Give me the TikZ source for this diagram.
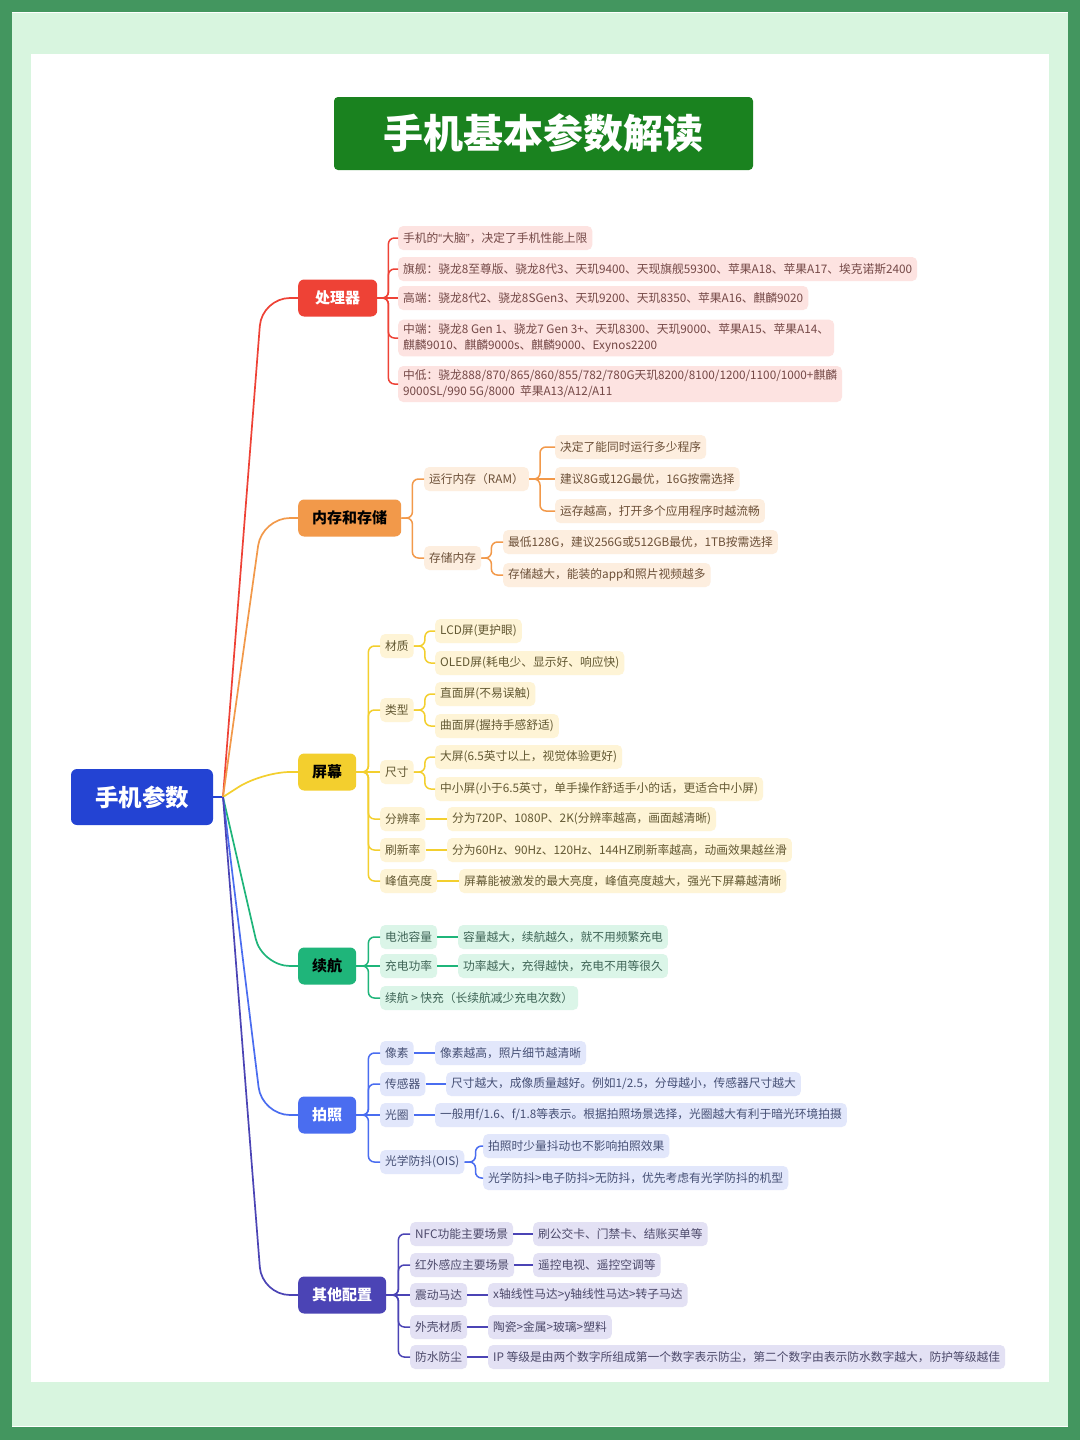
\documentclass[tikz,border=0pt]{standalone}
\usepackage{fontspec}
\setmainfont{Noto Sans CJK SC}
\newfontfamily\quofont{Liberation Sans}

\definecolor{frameG}{HTML}{43965F}
\definecolor{paleG}{HTML}{D8F5DF}
\definecolor{titleG}{HTML}{1A821F}
\definecolor{rootB}{HTML}{2343D3}
\definecolor{cpu}{HTML}{EE4236}  \definecolor{cpuL}{HTML}{FDE3E1} \definecolor{cpuT}{HTML}{744846}
\definecolor{mem}{HTML}{F2994A}  \definecolor{memL}{HTML}{FDEEDF} \definecolor{memT}{HTML}{6C5038}
\definecolor{scr}{HTML}{F3CF2E}  \definecolor{scrL}{HTML}{FEF4D6} \definecolor{scrT}{HTML}{625832}
\definecolor{bat}{HTML}{1FB57A}  \definecolor{batL}{HTML}{DBF5E8} \definecolor{batT}{HTML}{3E6456}
\definecolor{cam}{HTML}{4A6DF0}  \definecolor{camL}{HTML}{E2E7FB} \definecolor{camT}{HTML}{465075}
\definecolor{oth}{HTML}{4B44B5}  \definecolor{othL}{HTML}{E3E1F4} \definecolor{othT}{HTML}{4C496A}

\begin{document}
\begin{tikzpicture}[x=1pt,y=-1pt,
  leaf/.style={fill=#1L, text=#1T, rounded corners=5pt, anchor=west, inner xsep=5pt,
    inner ysep=4pt, minimum height=24pt, align=left, font=\fontsize{11.75}{16}\selectfont},
  topic/.style={fill=#1, rounded corners=6pt, anchor=west, inner xsep=14pt,
    minimum height=37pt, font=\bfseries\fontsize{15}{18}\selectfont},
  link/.style={draw=#1, line width=1.5pt, rounded corners=6pt},
  trunk/.style={draw=#1, line width=1.7pt, rounded corners=28pt}]

% frame and panel
\useasboundingbox (0,0) rectangle (1080,1440);
\fill[frameG] (0,0) rectangle (1080,1440);
\fill[paleG] (12,12) rectangle (1068,1427);
\draw[white, line width=1.5pt] (12,12.5) -- (1068,12.5) (12,1426.5) -- (1068,1426.5);
\fill[white] (31,54) rectangle (1049,1382);

% title and root
\node[fill=titleG, text=white, rounded corners=4pt, minimum width=419pt, minimum height=73pt,
  font=\bfseries\fontsize{40}{48}\selectfont] (title) at (543.5,133.5) {手机基本参数解读};
\node[fill=rootB, text=white, rounded corners=6pt, minimum width=142pt, minimum height=56pt,
  font=\bfseries\fontsize{23.5}{28}\selectfont] (root) at (142,797) {手机参数};

% main topics
\node[topic=cpu, text=white, minimum width=79pt] (cpu) at (298,298) {处理器};
\node[topic=mem, text=black] (mem) at (298,518) {内存和存储};
\node[topic=scr, text=black] (scr) at (298,772) {屏幕};
\node[topic=bat, text=black] (bat) at (298,966) {续航};
\node[topic=cam, text=white] (cam) at (298,1115) {拍照};
\node[topic=oth, text=white] (oth) at (298,1295) {其他配置};

% processor
\node[leaf=cpu] (cpu1) at (398,238) {手机的{\quofont “}大脑{\quofont ”}，决定了手机性能上限};
\node[leaf=cpu] (cpu2) at (398,269) {旗舰：骁龙8至尊版、骁龙8代3、天玑9400、天现旗舰59300、苹果A18、苹果A17、埃克诺斯2400};
\node[leaf=cpu] (cpu3) at (398,298) {高端：骁龙8代2、骁龙8SGen3、天玑9200、天玑8350、苹果A16、麒麟9020};
\node[leaf=cpu] (cpu4) at (398,338) {中端：骁龙8 Gen 1、骁龙7 Gen 3+、天玑8300、天玑9000、苹果A15、苹果A14、\\麒麟9010、麒麟9000s、麒麟9000、Exynos2200};
\node[leaf=cpu] (cpu5) at (398,384) {中低：骁龙888/870/865/860/855/782/780G天玑8200/8100/1200/1100/1000+麒麟\\9000SL/990 5G/8000\ \ 苹果A13/A12/A11};

% memory
\node[leaf=mem] (ram) at (424,479) {运行内存（RAM）};
\node[leaf=mem] (ram1) at (555,447) {决定了能同时运行多少程序};
\node[leaf=mem] (ram2) at (555,479) {建议8G或12G最优，16G按需选择};
\node[leaf=mem] (ram3) at (555,511) {运存越高，打开多个应用程序时越流畅};
\node[leaf=mem] (rom) at (424,558) {存储内存};
\node[leaf=mem] (rom1) at (503,542) {最低128G，建议256G或512GB最优，1TB按需选择};
\node[leaf=mem] (rom2) at (503,575) {存储越大，能装的app和照片视频越多};

% screen
\node[leaf=scr] (mat) at (380,646) {材质};
\node[leaf=scr] (mat1) at (435,631) {LCD屏(更护眼)};
\node[leaf=scr] (mat2) at (435,663) {OLED屏(耗电少、显示好、响应快)};
\node[leaf=scr] (typ) at (380,710) {类型};
\node[leaf=scr] (typ1) at (435,694) {直面屏(不易误触)};
\node[leaf=scr] (typ2) at (435,726) {曲面屏(握持手感舒适)};
\node[leaf=scr] (siz) at (380,772) {尺寸};
\node[leaf=scr] (siz1) at (435,757) {大屏(6.5英寸以上，视觉体验更好)};
\node[leaf=scr] (siz2) at (435,789) {中小屏(小于6.5英寸，单手操作舒适手小的话，更适合中小屏)};
\node[leaf=scr] (res) at (380,819) {分辨率};
\node[leaf=scr] (res1) at (447,819) {分为720P、1080P、2K(分辨率越高，画面越清晰)};
\node[leaf=scr] (rfr) at (380,850) {刷新率};
\node[leaf=scr] (rfr1) at (447,850) {分为60Hz、90Hz、120Hz、144HZ刷新率越高，动画效果越丝滑};
\node[leaf=scr] (pk) at (380,881) {峰值亮度};
\node[leaf=scr] (pk1) at (459,881) {屏幕能被激发的最大亮度，峰值亮度越大，强光下屏幕越清晰};

% battery
\node[leaf=bat] (cap) at (380,937) {电池容量};
\node[leaf=bat] (cap1) at (458,937) {容量越大，续航越久，就不用频繁充电};
\node[leaf=bat] (pwr) at (380,966) {充电功率};
\node[leaf=bat] (pwr1) at (458,966) {功率越大，充得越快，充电不用等很久};
\node[leaf=bat] (bal) at (380,998) {续航 > 快充（长续航减少充电次数）};

% camera
\node[leaf=cam] (pix) at (380,1053) {像素};
\node[leaf=cam] (pix1) at (435,1053) {像素越高，照片细节越清晰};
\node[leaf=cam] (sen) at (380,1084) {传感器};
\node[leaf=cam] (sen1) at (446,1084) {尺寸越大，成像质量越好。例如1/2.5，分母越小，传感器尺寸越大};
\node[leaf=cam] (ape) at (380,1115) {光圈};
\node[leaf=cam] (ape1) at (435,1115) {一般用f/1.6、f/1.8等表示。根据拍照场景选择，光圈越大有利于暗光环境拍摄};
\node[leaf=cam] (ois) at (380,1162) {光学防抖(OIS)};
\node[leaf=cam] (ois1) at (483,1146) {拍照时少量抖动也不影响拍照效果};
\node[leaf=cam] (ois2) at (483,1178) {光学防抖>电子防抖>无防抖，优先考虑有光学防抖的机型};

% other
\node[leaf=oth] (nfc) at (410,1234) {NFC功能主要场景};
\node[leaf=oth] (nfc1) at (533,1234) {刷公交卡、门禁卡、结账买单等};
\node[leaf=oth] (ir) at (410,1265) {红外感应主要场景};
\node[leaf=oth] (ir1) at (533,1265) {遥控电视、遥控空调等};
\node[leaf=oth] (vib) at (410,1295) {震动马达};
\node[leaf=oth] (vib1) at (488,1295) {x轴线性马达>y轴线性马达>转子马达};
\node[leaf=oth] (shl) at (410,1327) {外壳材质};
\node[leaf=oth] (shl1) at (488,1327) {陶瓷>金属>玻璃>塑料};
\node[leaf=oth] (ip) at (410,1357) {防水防尘};
\node[leaf=oth] (ip1) at (488,1357) {IP 等级是由两个数字所组成第一个数字表示防尘，第二个数字由表示防水数字越大，防护等级越佳};

% links from the root
\coordinate (hub) at (223,797);
\coordinate (spine) at (262,0);
\draw[rootB, line width=1.8pt] (root.east) -- (hub);
\foreach \n in {cpu,mem,scr,bat,cam,oth}
  \draw[trunk=\n] (hub) -- (\n.west -| spine) -- (\n.west);

% links inside the branches
\foreach \c in {cpu1,cpu2,cpu4,cpu5} \draw[link=cpu] (cpu.east) -- ++(11,0) |- (\c.west);
\draw[link=cpu] (cpu.east) -- (cpu3.west);
\foreach \c in {ram,rom} \draw[link=mem] (mem.east) -- ++(11,0) |- (\c.west);
\foreach \c in {ram1,ram3} \draw[link=mem] (ram.east) -- ++(11,0) |- (\c.west);
\draw[link=mem] (ram.east) -- (ram2.west);
\foreach \c in {rom1,rom2} \draw[link=mem] (rom.east) -- ++(10,0) |- (\c.west);
\foreach \c in {mat,typ,res,rfr,pk} \draw[link=scr] (scr.east) -- ++(12,0) |- (\c.west);
\draw[link=scr] (scr.east) -- (siz.west);
\foreach \p in {mat,typ,siz}
  \foreach \c in {1,2} \draw[link=scr] (\p.east) -- ++(11,0) |- (\p\c.west);
\foreach \p in {res,rfr,pk} \draw[link=scr] (\p.east) -- (\p1.west);
\foreach \c in {cap,bal} \draw[link=bat] (bat.east) -- ++(12,0) |- (\c.west);
\draw[link=bat] (bat.east) -- (pwr.west);
\foreach \p in {cap,pwr} \draw[link=bat] (\p.east) -- (\p1.west);
\foreach \c in {pix,sen,ois} \draw[link=cam] (cam.east) -- ++(12,0) |- (\c.west);
\draw[link=cam] (cam.east) -- (ape.west);
\foreach \p in {pix,sen,ape} \draw[link=cam] (\p.east) -- (\p1.west);
\foreach \c in {1,2} \draw[link=cam] (ois.east) -- ++(11,0) |- (ois\c.west);
\foreach \c in {nfc,ir,shl,ip} \draw[link=oth] (oth.east) -- ++(12,0) |- (\c.west);
\draw[link=oth] (oth.east) -- (vib.west);
\foreach \p in {nfc,ir,vib,shl,ip} \draw[link=oth] (\p.east) -- (\p1.west);
\end{tikzpicture}
\end{document}
